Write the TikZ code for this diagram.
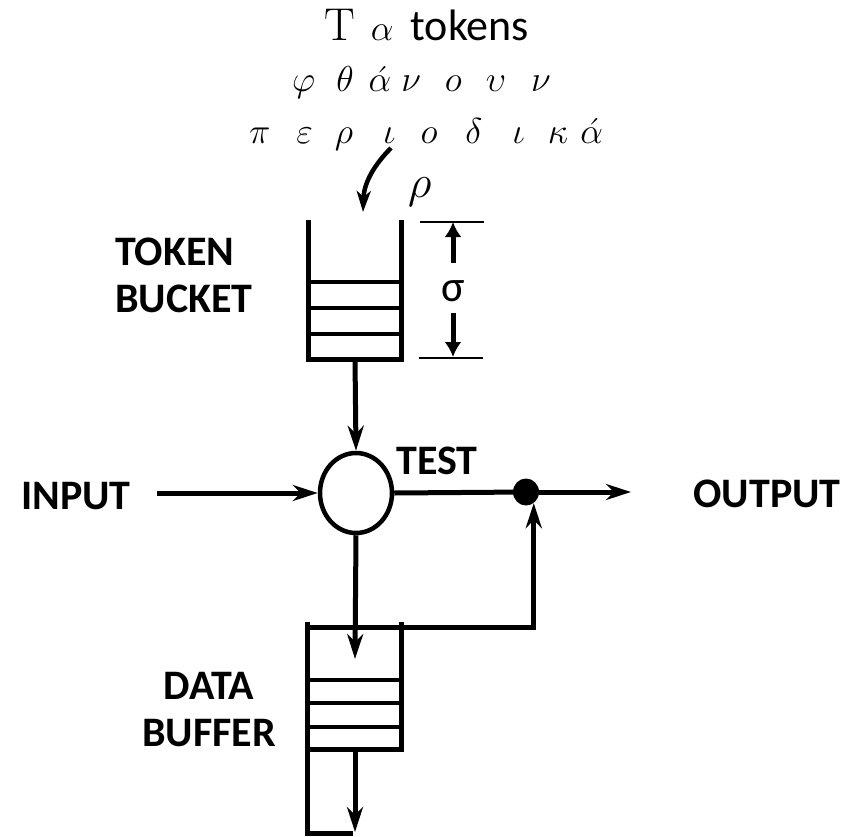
\RequirePackage{fix-cm}
\documentclass[tikz,border=0pt]{standalone}
\usepackage{amsmath}
\usepackage{fontspec}
\newfontfamily\labelfont{Carlito}
\usetikzlibrary{arrows.meta,shapes.geometric}
\newcommand{\gsp}{\hspace{26pt}}
\tikzset{
  wall/.style={line width=5pt},
  shelf/.style={line width=4.5pt},
  flow/.style={line width=5pt,-{Stealth[length=25pt,width=16pt,inset=8pt]}},
  curvy/.style={line width=4.5pt,-{Stealth[length=21pt,width=14pt,inset=6pt]}},
  extline/.style={line width=2.5pt},
  dimarrow/.style={line width=5pt,-{Latex[length=15pt,width=17pt]}},
  lbl/.style={font=\labelfont\bfseries\fontsize{42}{47}\selectfont,align=center,inner sep=0pt},
  greek/.style={font=\fontsize{36}{40}\selectfont,inner sep=0pt,anchor=base west},
}

\begin{document}
\begin{tikzpicture}[x=1pt,y=-1pt]
  \useasboundingbox (0,0) rectangle (852,836);
  % greek caption on top
  \node[greek] (cap1) at (324,40)
    {{\fontsize{46}{50}\selectfont T}\hspace{16pt}$\alpha$\hspace{17pt}{\labelfont\fontsize{44}{48}\selectfont tokens}};
  \node[greek] (cap2) at (292,91)
    {$\varphi\hspace{21pt}\theta\hspace{15pt}\acute{\alpha}\hspace{10pt}\nu\hspace{24pt}o\hspace{24pt}\upsilon\hspace{25pt}\nu$};
  \node[greek] (cap3) at (249,143)
    {$\pi\gsp\varepsilon\hspace{22pt}\rho\hspace{30pt}\iota\hspace{25pt}o\hspace{28pt}\delta\hspace{30pt}\iota\hspace{23pt}\kappa\hspace{12pt}\acute{\alpha}$};
  \node[greek,font=\fontsize{46}{50}\selectfont] (rate) at (408,197) {$\rho$};
  \coordinate (rho-start) at (391,148);
  \coordinate (rho-end) at (363,212);
  \draw[curvy] (rho-start) .. controls (375,164) and (364,182) .. (rho-end);

  % token bucket
  \draw[wall] (308,220) -- (308,359) -- (401,359) -- (401,220);
  \foreach \y in {282,308,334}{\draw[shelf] (308,\y) -- (401,\y);}
  \node[lbl,align=left,anchor=west] (tb-label) at (115,275) {TOKEN\\BUCKET};
  % sigma = bucket depth
  \coordinate (dim-top) at (453,222);
  \coordinate (dim-bot) at (453,357);
  \draw[extline] (420,222) -- (484,222);
  \draw[extline] (419,358) -- (483,358);
  \node[font=\labelfont\fontsize{44}{48}\selectfont,inner sep=0pt] (sigma) at (453,291) {σ};
  \coordinate (sg-up) at (453,263);
  \coordinate (sg-dn) at (453,313);
  \draw[dimarrow] (sg-up) -- (dim-top);
  \draw[dimarrow] (sg-dn) -- (dim-bot);

  % test and main flow
  \node[ellipse,draw,line width=4.5pt,minimum width=72pt,minimum height=80pt,inner sep=0pt] (test) at (356,493) {};
  \node[lbl] (test-label) at (437,461) {TEST};
  \coordinate (tb-out) at (355,359);
  \draw[flow] (tb-out) -- (test.north);
  \node[lbl] (input) at (76,496) {INPUT};
  \coordinate (in-start) at (157,493);
  \draw[flow] (in-start) -- (test.west);
  \node[ellipse,fill,minimum width=26pt,minimum height=27pt,inner sep=0pt] (dot) at (526,492) {};
  \draw[line width=5pt] (test.east) -- (dot);
  \coordinate (out-end) at (631,492);
  \draw[flow] (dot) -- (out-end);
  \node[lbl] (output) at (767,494) {OUTPUT};

  % data buffer
  \draw[wall] (307,622) -- (307,833) -- (353,833);
  \draw[wall] (307,749) -- (401,749) -- (401,622);
  \foreach \y in {680,703,727}{\draw[shelf] (307,\y) -- (401,\y);}
  \node[lbl] (db-label) at (209,710) {DATA\\BUFFER};
  \coordinate (db-in) at (355,659);
  \draw[flow] (test.south) -- (db-in);
  \coordinate (db-nw) at (307,627);
  \draw[flow] (db-nw) -| (dot.-55);
  \coordinate (db-out) at (355,749);
  \coordinate (db-end) at (355,832);
  \draw[flow] (db-out) -- (db-end);
\end{tikzpicture}
\end{document}
